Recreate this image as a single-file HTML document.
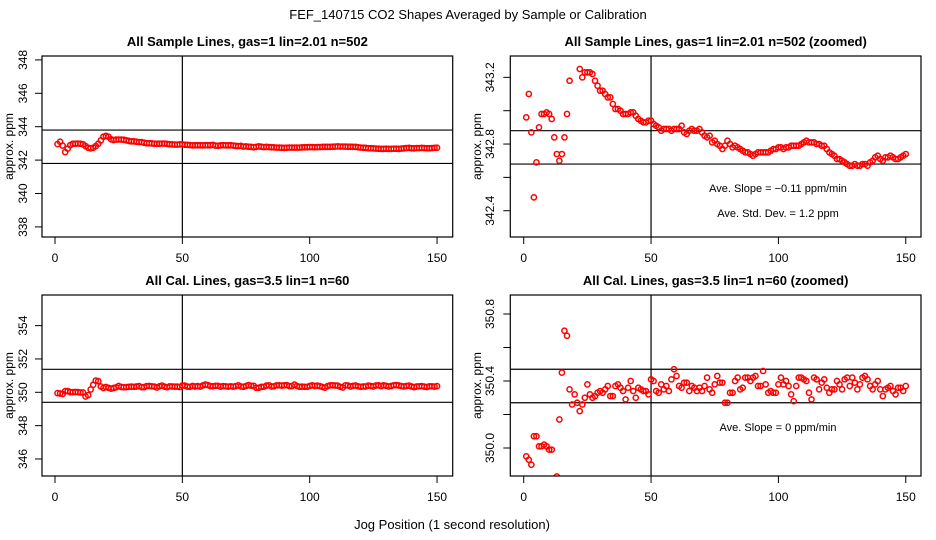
<!DOCTYPE html>
<html><head><meta charset="utf-8"><style>
html,body{margin:0;padding:0;background:#fff;}
svg{display:block;font-family:"Liberation Sans",Arial,sans-serif;}
</style></head><body>
<svg id="c" width="936" height="540" viewBox="0 0 936 540">
<text x="468" y="19" text-anchor="middle" font-size="13">FEF_140715  CO2 Shapes Averaged by Sample or Calibration</text>
<text x="452" y="529" text-anchor="middle" font-size="13">Jog Position (1 second resolution)</text>
</svg>
<script>
const xTicks=[0,50,100,150];
const sampleValues=[342.96,343.10,342.87,342.48,342.69,342.90,342.98,342.98,342.99,342.98,342.95,342.84,342.74,342.70,342.74,342.84,342.98,343.18,343.40,343.45,343.40,343.25,343.20,343.23,343.23,343.23,343.22,343.18,343.15,343.12,343.12,343.10,343.08,343.08,343.04,343.01,343.01,343.00,342.98,342.98,342.98,342.99,342.99,342.97,342.95,342.94,342.93,342.93,342.94,342.94,342.92,342.91,342.90,342.88,342.89,342.89,342.89,342.88,342.89,342.89,342.89,342.91,342.87,342.86,342.88,342.89,342.88,342.88,342.89,342.87,342.85,342.84,342.85,342.81,342.82,342.80,342.79,342.77,342.79,342.82,342.80,342.78,342.79,342.78,342.77,342.76,342.75,342.75,342.74,342.73,342.74,342.75,342.75,342.75,342.75,342.75,342.76,342.77,342.77,342.78,342.78,342.77,342.78,342.78,342.79,342.79,342.79,342.79,342.80,342.81,342.82,342.81,342.81,342.81,342.80,342.80,342.79,342.79,342.77,342.75,342.74,342.73,342.71,342.71,342.70,342.69,342.68,342.67,342.67,342.68,342.67,342.67,342.68,342.68,342.67,342.69,342.70,342.72,342.73,342.71,342.70,342.72,342.72,342.73,342.72,342.71,342.71,342.72,342.73,342.74];
const calValues=[349.95,349.93,349.90,350.07,350.07,350.01,350.01,350.02,350.01,349.99,349.99,349.75,349.83,350.17,350.45,350.70,350.67,350.35,350.26,350.32,350.27,350.22,350.26,350.30,350.38,350.32,350.30,350.31,350.33,350.34,350.33,350.35,350.37,350.31,350.31,350.37,350.38,350.36,350.34,350.29,350.36,350.40,350.34,350.30,350.36,350.35,350.34,350.34,350.32,350.41,350.40,350.34,350.33,350.38,350.35,350.37,350.34,350.41,350.47,350.43,350.37,350.36,350.39,350.39,350.34,350.37,350.36,350.34,350.36,350.34,350.37,350.42,350.35,350.33,350.38,350.43,350.39,350.39,350.27,350.27,350.33,350.33,350.40,350.42,350.35,350.36,350.42,350.42,350.40,350.42,350.43,350.37,350.37,350.46,350.38,350.33,350.34,350.33,350.33,350.38,350.42,350.38,350.40,350.37,350.32,350.28,350.37,350.42,350.42,350.41,350.40,350.33,350.29,350.42,350.41,350.35,350.39,350.41,350.36,350.33,350.35,350.35,350.40,350.38,350.35,350.41,350.42,350.37,350.42,350.39,350.35,350.38,350.42,350.43,350.41,350.37,350.35,350.38,350.40,350.35,350.31,350.35,350.36,350.37,350.34,350.32,350.36,350.36,350.34,350.37];
const sampleTicksWide=[338,340,342,344,346,348];
const sampleTicksZoom=[342.4,342.6,342.8,343.0,343.2];
const sampleLabelsZoom=["342.4","","342.8","","343.2"];
const calTicksWide=[346,348,350,352,354];
const calTicksZoom=[350.0,350.2,350.4,350.6,350.8];
const calLabelsZoom=["350.0","","350.4","","350.8"];
const sampleHLinesWide=[343.8,341.8];
const sampleHLinesZoom=[342.88,342.68];
const calHLinesWide=[351.38,349.4];
const calHLinesZoom=[350.47,350.27];

const svg=document.getElementById('c');
const NS='http://www.w3.org/2000/svg';
function mk(tag,attrs,parent){const e=document.createElementNS(NS,tag);for(const k in attrs)e.setAttribute(k,attrs[k]);(parent||svg).appendChild(e);return e;}

const panels=[
 {name:'sample-wide',title:'All Sample Lines, gas=1 lin=2.01 n=502',x0:42,x1:452.7,y0:56,y1:237,xo:55,ref:344,refY:126.7,ppu:16.7,data:sampleValues,ticks:sampleTicksWide,labels:sampleTicksWide.map(String),hl:sampleHLinesWide,lblX:23,ttlX:9},
 {name:'sample-zoom',title:'All Sample Lines, gas=1 lin=2.01 n=502 (zoomed)',x0:510.3,x1:921,y0:56,y1:237,xo:523.7,ref:343,refY:110.7,ppu:166.7,data:sampleValues,ticks:sampleTicksZoom,labels:sampleLabelsZoom,hl:sampleHLinesZoom,lblX:490,ttlX:477,notes:[['Ave. Slope =  \u22120.11  ppm/min',192],['Ave. Std. Dev. =  1.2  ppm',217]]},
 {name:'cal-wide',title:'All Cal. Lines, gas=3.5 lin=1 n=60',x0:42,x1:452.7,y0:295,y1:476,xo:55,ref:350,refY:392.3,ppu:16.67,data:calValues,ticks:calTicksWide,labels:calTicksWide.map(String),hl:calHLinesWide,lblX:23,ttlX:9},
 {name:'cal-zoom',title:'All Cal. Lines, gas=3.5 lin=1 n=60 (zoomed)',x0:510.3,x1:921,y0:295,y1:476,xo:523.7,ref:350.4,refY:381,ppu:167.5,data:calValues,ticks:calTicksZoom,labels:calLabelsZoom,hl:calHLinesZoom,lblX:490,ttlX:477,notes:[['Ave. Slope =  0  ppm/min',431]]}
];
const xs=2.547;
panels.forEach((p,pi)=>{
 const g=mk('g',{});
 
 
 const X=v=>p.xo+v*xs, Y=v=>p.refY-(v-p.ref)*p.ppu;
 const cx=(p.x0+p.x1)/2;
 const t=mk('text',{x:cx,y:p.y0-10,'text-anchor':'middle','font-size':13,'font-weight':'bold'},g);t.textContent=p.title;
 
 
 const cp=mk('clipPath',{id:'cp'+pi},g);mk('rect',{x:p.x0,y:p.y0,width:p.x1-p.x0,height:p.y1-p.y0},cp);
 p.hl.forEach(v=>{const l=mk('line',{x1:p.x0,x2:p.x1,y1:Y(v),y2:Y(v),stroke:'#000','stroke-width':1.2},g);
  
  });
 const vl=mk('line',{x1:X(50),x2:X(50),y1:p.y0,y2:p.y1,stroke:'#000','stroke-width':1.2},g);
 
 
 const pts=mk('g',{'clip-path':'url(#cp'+pi+')'},g);
 
 
 p.data.forEach((v,i)=>{const c=mk('circle',{cx:X(i+1),cy:Y(v),r:2.6,fill:'none',stroke:'#f00','stroke-width':1.5},pts);
  
  });
 const box=mk('rect',{x:p.x0,y:p.y0,width:p.x1-p.x0,height:p.y1-p.y0,fill:'none',stroke:'#000','stroke-width':1.2},g);
 
 
 xTicks.forEach(v=>{mk('line',{x1:X(v),x2:X(v),y1:p.y1,y2:p.y1+7,stroke:'#000'},g);
  const tl=mk('text',{x:X(v),y:p.y1+25,'text-anchor':'middle','font-size':12},g);tl.textContent=v;
  
  });
 p.ticks.forEach((v,i)=>{mk('line',{x1:p.x0,x2:p.x0-7,y1:Y(v),y2:Y(v),stroke:'#000'},g);
  if(p.labels[i]){const tl=mk('text',{x:0,y:0,'text-anchor':'middle','font-size':12,transform:`translate(${p.lblX+4},${Y(v)}) rotate(-90)`},g);tl.textContent=p.labels[i];
  
  }});
 const yt=mk('text',{x:0,y:0,'text-anchor':'middle','font-size':12,transform:`translate(${p.ttlX+4},${(p.y0+p.y1)/2}) rotate(-90)`},g);yt.textContent='approx. ppm';
 
 
 (p.notes||[]).forEach(n=>{const a=mk('text',{x:778,y:n[1],'text-anchor':'middle','font-size':11},g);a.textContent=n[0];
  
  });
});
</script>
</body></html>
